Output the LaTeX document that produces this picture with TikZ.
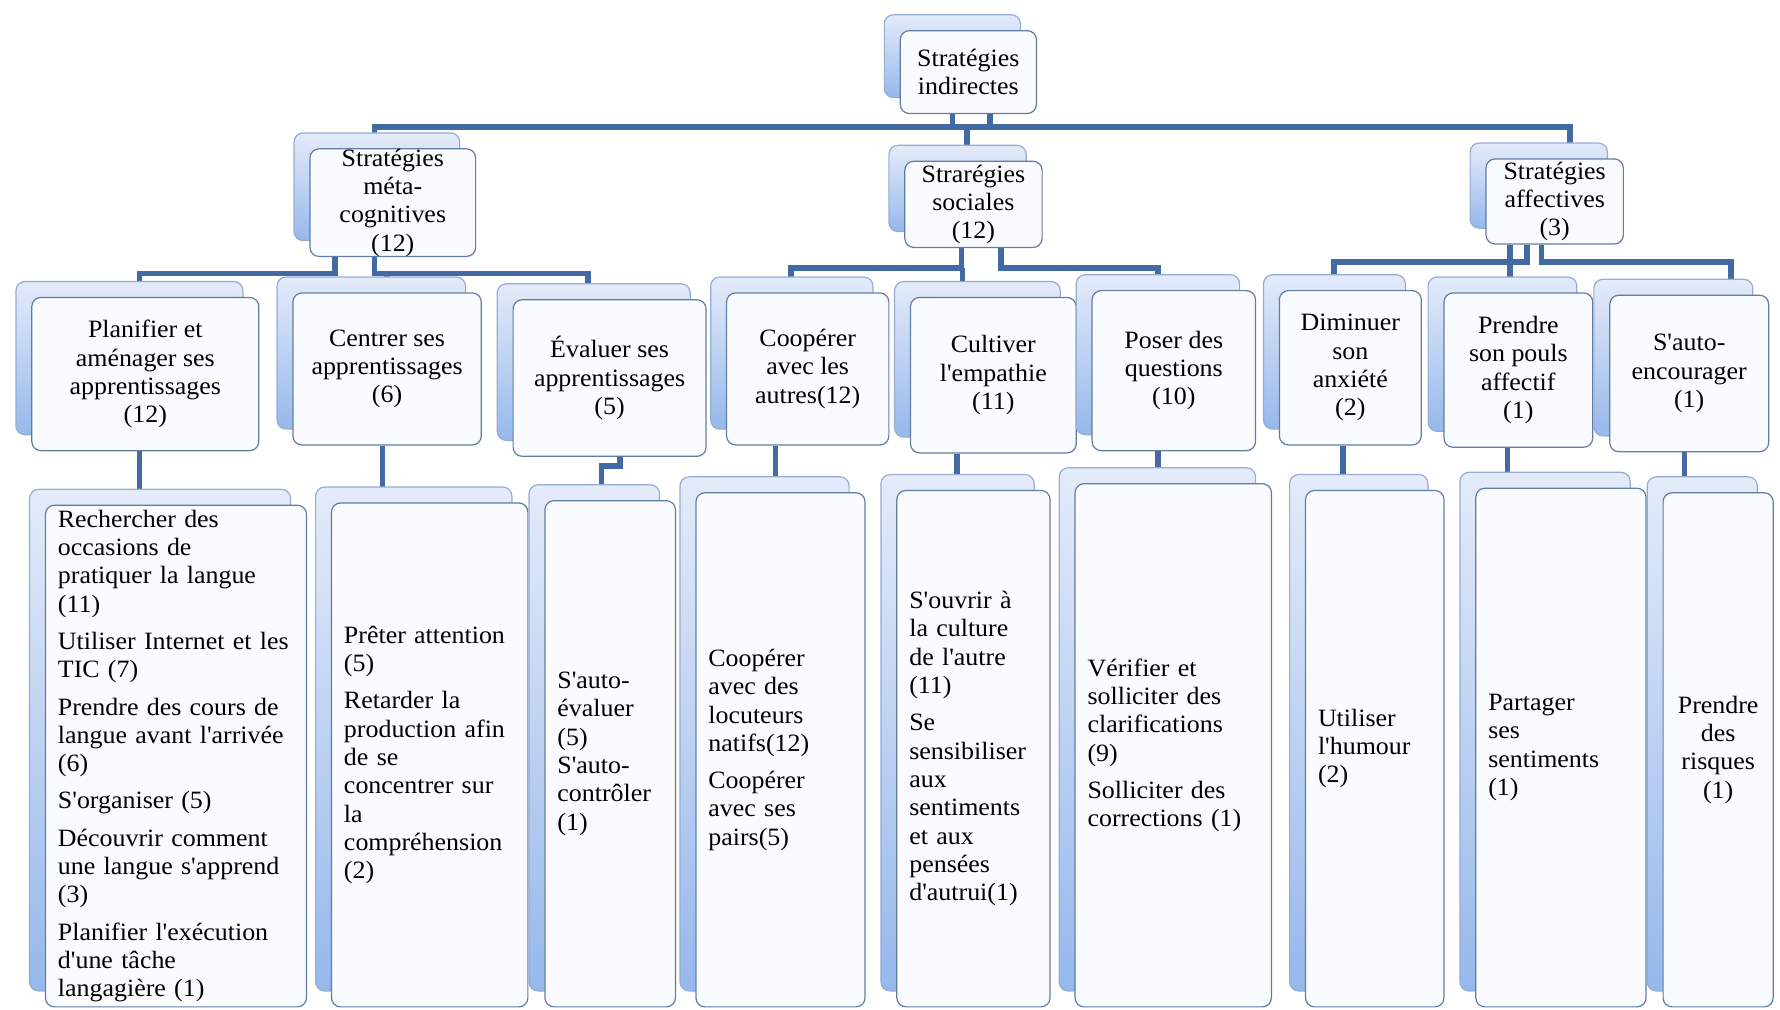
\documentclass[tikz,border=0pt]{standalone}
\usepackage{fontspec}
\setmainfont[FakeStretch=1.04,Ligatures=TeXOff]{Liberation Serif}
\usetikzlibrary{shadows,backgrounds}
\definecolor{linkblue}{RGB}{67,106,163}
\definecolor{frontline}{RGB}{98,124,162}
\definecolor{frontfill}{RGB}{249,251,254}
\definecolor{backline}{RGB}{150,172,210}
\definecolor{backdeep}{RGB}{150,184,236}
\definecolor{backlight}{RGB}{228,235,249}

\begin{document}
\begin{tikzpicture}[x=0.02cm,y=-0.02cm,box/.style={draw=frontline,fill=frontfill,line width=.6pt,rounded corners=.16cm,inner sep=0pt,align=center,font=\fontsize{12.5}{14.2}\selectfont,copy shadow={shadow xshift=-.28cm,shadow yshift=.28cm,draw=backline,top color=backlight,bottom color=backdeep}},leaf/.style={box,align=left,inner xsep=.22cm,inner ysep=.05cm},link/.style={draw=linkblue,line width=2.8pt}]
\useasboundingbox (0,0) rectangle (1568,889);

\node[box,minimum width=2.4cm,minimum height=1.46cm] (rootF) at (853,63.5) {Stratégies\\indirectes};

\node[box,minimum width=2.92cm,minimum height=1.86cm] (metaF) at (346,178.5) {Stratégies\\méta-\\cognitives\\(12)};
\node[box,minimum width=2.42cm,minimum height=1.52cm] (socF) at (857.5,180) {Strarégies\\sociales\\(12)};
\node[box,minimum width=2.42cm,minimum height=1.5cm] (affF) at (1369.5,177.5) {Stratégies\\affectives\\(3)};

\node[box,minimum width=4cm,minimum height=2.7cm] (planF) at (128,329.5) {Planifier et\\aménager ses\\apprentissages\\(12)};
\node[box,minimum width=3.32cm,minimum height=2.68cm] (centF) at (341,325) {Centrer ses\\apprentissages\\(6)};
\node[box,minimum width=3.4cm,minimum height=2.76cm] (evalF) at (537,333) {Évaluer ses\\apprentissages\\(5)};
\node[box,minimum width=2.86cm,minimum height=2.68cm] (coopF) at (711.5,325) {Coopérer\\avec les\\autres(12)};
\node[box,minimum width=2.92cm,minimum height=2.74cm] (cultF) at (875,330.5) {Cultiver\\l'empathie\\(11)};
\node[box,minimum width=2.88cm,minimum height=2.82cm] (poseF) at (1034,326.5) {Poser des\\questions\\(10)};
\node[box,minimum width=2.5cm,minimum height=2.72cm] (dimF) at (1189.5,324) {Diminuer\\son\\anxiété\\(2)};
\node[box,minimum width=2.62cm,minimum height=2.72cm] (pouF) at (1337.5,326) {Prendre\\son pouls\\affectif\\(1)};
\node[box,minimum width=2.8cm,minimum height=2.76cm] (encF) at (1488,329) {S'auto-\\encourager\\(1)};

\node[leaf,text width=4.16cm,minimum width=4.6cm,minimum height=8.84cm] (planL) at (155,666) {Rechercher des\\occasions de\\pratiquer la langue\\(11)\\[4.5pt]Utiliser Internet et les\\TIC (7)\\[4.5pt]Prendre des cours de\\langue avant l'arrivée\\(6)\\[4.5pt]S'organiser (5)\\[4.5pt]Découvrir comment\\une langue s'apprend\\(3)\\[4.5pt]Planifier l'exécution\\d'une tâche\\langagière (1)};
\node[leaf,text width=3.02cm,minimum width=3.46cm,minimum height=8.88cm] (centL) at (378.5,665) {Prêter attention\\(5)\\[4.5pt]Retarder la\\production afin\\de se\\concentrer sur\\la\\compréhension\\(2)};
\node[leaf,text width=1.86cm,minimum width=2.3cm,minimum height=8.92cm] (evalL) at (537.5,664) {S'auto-\\évaluer\\(5)\\S'auto-\\contrôler\\(1)};
\node[leaf,text width=2.54cm,minimum width=2.98cm,minimum height=9.06cm] (coopL) at (687.5,660.5) {Coopérer\\avec des\\locuteurs\\natifs(12)\\[4.5pt]Coopérer\\avec ses\\pairs(5)};
\node[leaf,text width=2.26cm,minimum width=2.7cm,minimum height=9.1cm] (cultL) at (857.5,659.5) {S'ouvrir à\\la culture\\de l'autre\\(11)\\[4.5pt]Se\\sensibiliser\\aux\\sentiments\\et aux\\pensées\\d'autrui(1)};
\node[leaf,text width=3.02cm,minimum width=3.46cm,minimum height=9.22cm] (poseL) at (1033.5,656.5) {Vérifier et\\solliciter des\\clarifications\\(9)\\[4.5pt]Solliciter des\\corrections (1)};
\node[leaf,text width=2cm,minimum width=2.44cm,minimum height=9.1cm] (dimL) at (1211,659.5) {Utiliser\\l'humour\\(2)};
\node[leaf,text width=2.56cm,minimum width=3cm,minimum height=9.14cm] (pouL) at (1375,658.5) {Partager\\ses\\sentiments\\(1)};
\node[leaf,align=center,text width=1.5cm,minimum width=1.94cm,minimum height=9.06cm] (encL) at (1513.5,660.5) {Prendre\\des\\risques\\(1)};

\coordinate (topbus) at (853,112);
\coordinate (metabus) at (346,241);
\coordinate (socbus) at (857,236);
\coordinate (affbus) at (1370,231);

\begin{scope}[on background layer]
\draw[link] ([xshift=-.28cm]rootF.south) -- ([xshift=-.28cm]rootF.south |- topbus);
\draw[link] ([xshift=.38cm]rootF.south) -- ([xshift=.38cm]rootF.south |- topbus);
\draw[link] ([xshift=-.32cm]metaF.north) |- (topbus) -| ([xshift=.27cm]affF.north);
\draw[link] ([xshift=-.11cm]socF.north) -- ([xshift=-.11cm]socF.north |- topbus);

\draw[link] ([xshift=-1.02cm]metaF.south) |- ([xshift=-.1cm]planF.north |- metabus) -- ([xshift=-.1cm]planF.north);
\draw[link] ([xshift=-.32cm]metaF.south) |- ([xshift=-.38cm]evalF.north |- metabus) -- ([xshift=-.38cm]evalF.north);
\draw[link] (centF.north |- metabus) -- (centF.north);

\draw[link] ([xshift=-.21cm]socF.south) |- ([xshift=-.29cm]coopF.north |- socbus) -- ([xshift=-.29cm]coopF.north);
\draw[link] ([xshift=.49cm]socF.south) |- ([xshift=-.28cm]poseF.north |- socbus) -- ([xshift=-.28cm]poseF.north);
\draw[link] ([xshift=-.54cm]cultF.north) -- ([xshift=-.54cm]cultF.north |- socbus);

\draw[link] ([xshift=-.49cm]affF.south) |- ([xshift=-.29cm]dimF.north |- affbus) -- ([xshift=-.29cm]dimF.north);
\draw[link] ([xshift=-.23cm]affF.south) |- ([xshift=.74cm]encF.north |- affbus) -- ([xshift=.74cm]encF.north);
\draw[link] ([xshift=-.15cm]pouF.north |- affF.south) -- ([xshift=-.15cm]pouF.north);

\draw[link] ([xshift=-.1cm]planF.south) -- ([xshift=-.1cm]planF.south |- planL.north);
\draw[link] ([xshift=-.08cm]centF.south) -- ([xshift=-.08cm]centF.south |- centL.north);
\draw[link] ([xshift=.18cm]evalF.south) -- ++(0,8) -| ([xshift=-.15cm]evalL.north);
\draw[link] ([xshift=-.57cm]coopF.south) -- ([xshift=-.57cm]coopF.south |- coopL.north);
\draw[link] ([xshift=-.64cm]cultF.south) -- ([xshift=-.64cm]cultF.south |- cultL.north);
\draw[link] ([xshift=-.28cm]poseF.south) -- ([xshift=-.28cm]poseF.south |- poseL.north);
\draw[link] ([xshift=-.13cm]dimF.south) -- ([xshift=-.13cm]dimF.south |- dimL.north);
\draw[link] ([xshift=-.19cm]pouF.south) -- ([xshift=-.19cm]pouF.south |- pouL.north);
\draw[link] ([xshift=-.08cm]encF.south) -- ([xshift=-.08cm]encF.south |- encL.north);
\end{scope}
\end{tikzpicture}
\end{document}
